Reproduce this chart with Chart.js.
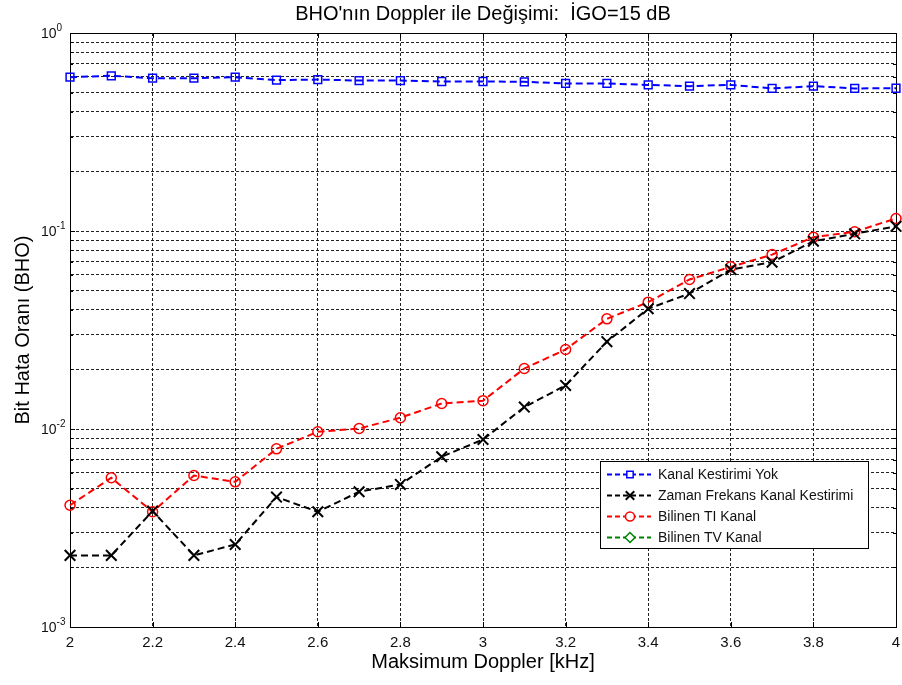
<!DOCTYPE html>
<html lang="tr">
<head>
<meta charset="UTF-8" />
<title>BHO'nın Doppler ile Değişimi</title>
<script src="https://cdn.jsdelivr.net/npm/chart.js@4"></script>
<style>
    html, body { margin: 0; padding: 0; background: #fff; }
    #wrap { width: 902px; height: 685px; }
</style>
</head>
<body>
<div id="wrap"><canvas id="bhoChart" width="902" height="685"></canvas></div>

<script>
    // --- veri ---
    const dopplerKHz = [2.0, 2.1, 2.2, 2.3, 2.4, 2.5, 2.6, 2.7, 2.8, 2.9, 3.0,
                        3.1, 3.2, 3.3, 3.4, 3.5, 3.6, 3.7, 3.8, 3.9, 4.0];

    const kanalKestirimiYok = [0.598, 0.608, 0.591, 0.591, 0.598, 0.578, 0.582, 0.575, 0.575, 0.569, 0.569,
                               0.567, 0.556, 0.556, 0.547, 0.539, 0.547, 0.525, 0.539, 0.525, 0.526];

    const zamanFrekansKestirim = [0.0023, 0.0023, 0.00385, 0.0023, 0.00261, 0.00453, 0.00382, 0.00482, 0.00525, 0.00724, 0.00885,
                                  0.0129, 0.0166, 0.0276, 0.0405, 0.0483, 0.0639, 0.0696, 0.0888, 0.0968, 0.1056];

    const bilinenTIKanal = [0.00412, 0.00567, 0.00382, 0.00582, 0.00541, 0.00794, 0.00968, 0.01006, 0.0114, 0.01345, 0.0139,
                            0.0202, 0.0252, 0.0360, 0.0437, 0.0569, 0.0659, 0.0760, 0.0931, 0.0991, 0.1157];

    // grafik aralığında görünmüyor (1e-3 altında)
    const bilinenTVKanal = [];

    const xTickValues = [2, 2.2, 2.4, 2.6, 2.8, 3, 3.2, 3.4, 3.6, 3.8, 4];
    const yDecades = [0.001, 0.01, 0.1, 1];
    const yMinorSteps = [2, 3, 4, 5, 6, 7, 8, 9];

    const FONT = '"Liberation Sans", Arial, sans-serif';

    function pts(values) {
        return values.map((v, i) => ({ x: dopplerKHz[i], y: v }));
    }

    function yGridTicks() {
        const out = [];
        yDecades.forEach((d, i) => {
            out.push({ value: d, major: true });
            if (i < yDecades.length - 1) yMinorSteps.forEach(m => out.push({ value: d * m, major: false }));
        });
        return out;
    }

    // MATLAB tarzı çerçeve, başlıklar, üs etiketleri ve lejant
    const matlabDecor = {
        id: 'matlabDecor',
        beforeDatasetsDraw(chart) {
            const { ctx, chartArea: a, scales } = chart;
            ctx.save();
            ctx.strokeStyle = '#000';
            ctx.lineWidth = 1;
            ctx.setLineDash([]);
            ctx.strokeRect(Math.round(a.left) + 0.5, Math.round(a.top) + 0.5,
                Math.round(a.right - a.left), Math.round(a.bottom - a.top));
            ctx.beginPath();
            xTickValues.forEach(v => {
                const x = Math.round(scales.x.getPixelForValue(v)) + 0.5;
                ctx.moveTo(x, a.bottom); ctx.lineTo(x, a.bottom - 5);
                ctx.moveTo(x, a.top); ctx.lineTo(x, a.top + 5);
            });
            yGridTicks().forEach(t => {
                const y = Math.round(scales.y.getPixelForValue(t.value)) + 0.5;
                const len = t.major ? 5 : 3;
                ctx.moveTo(a.left, y); ctx.lineTo(a.left + len, y);
                ctx.moveTo(a.right, y); ctx.lineTo(a.right - len, y);
            });
            ctx.stroke();
            ctx.restore();
        },
        afterDraw(chart) {
            const { ctx, chartArea: a, scales } = chart;
            const cx = (a.left + a.right) / 2;
            ctx.save();
            ctx.fillStyle = '#000';
            ctx.textBaseline = 'middle';

            // başlık
            ctx.font = '20px ' + FONT;
            ctx.textAlign = 'center';
            ctx.fillText("BHO'nın Doppler ile Değişimi:  İGO=15 dB", cx, 14);

            // x ekseni başlığı
            ctx.fillText('Maksimum Doppler [kHz]', cx, 662);

            // y ekseni başlığı
            ctx.save();
            ctx.translate(23, (a.top + a.bottom) / 2);
            ctx.rotate(-Math.PI / 2);
            ctx.fillText('Bit Hata Oranı (BHO)', 0, 0);
            ctx.restore();

            // y üs etiketleri 10^n
            ctx.textAlign = 'left';
            ctx.fillStyle = '#111';
            yDecades.forEach(d => {
                const y = scales.y.getPixelForValue(d);
                ctx.font = '14px ' + FONT;
                ctx.fillText('10', 41, y + 1);
                const w = ctx.measureText('10').width;
                ctx.font = '10px ' + FONT;
                ctx.fillText(String(Math.round(Math.log10(d))), 41 + w, y - 5);
            });

            // lejant
            const box = { x: 600, y: 461.5, w: 268, h: 87 };
            ctx.fillStyle = '#fff';
            ctx.fillRect(box.x, box.y, box.w, box.h);
            ctx.strokeStyle = '#000';
            ctx.lineWidth = 1;
            ctx.setLineDash([]);
            ctx.strokeRect(box.x + 0.5, box.y, box.w, box.h);
            chart.data.datasets.forEach((ds, i) => {
                const y = box.y + 13 + i * 21;
                ctx.strokeStyle = ds.borderColor;
                ctx.lineWidth = 2;
                ctx.setLineDash([5, 3]);
                ctx.beginPath();
                ctx.moveTo(607, y); ctx.lineTo(651, y);
                ctx.stroke();
                ctx.setLineDash([]);
                ctx.fillStyle = '#fff';
                ctx.lineWidth = ds.pointBorderWidth;
                Chart.helpers.drawPoint(ctx, {
                    pointStyle: ds.pointStyle, rotation: 0,
                    radius: ds.legendRadius, borderWidth: ds.pointBorderWidth
                }, 630, y);
                ctx.fillStyle = '#111';
                ctx.font = '14px ' + FONT;
                ctx.textAlign = 'left';
                ctx.fillText(ds.label, 658, y + 1);
            });
            ctx.restore();
        }
    };

    const gridOpts = { color: '#222', lineWidth: 1, drawTicks: false };
    const borderOpts = { display: true, color: '#000', width: 1, dash: [3, 2] };

    function series(label, values, color, style, radius, bw, legendRadius) {
        return {
            label: label,
            data: pts(values),
            borderColor: color,
            backgroundColor: 'transparent',
            borderWidth: 2,
            borderDash: [7, 4],
            pointStyle: style,
            pointRadius: radius,
            pointBorderWidth: bw,
            pointBorderColor: color,
            pointBackgroundColor: 'transparent',
            legendRadius: legendRadius,
            tension: 0,
            clip: false
        };
    }

    new Chart(document.getElementById('bhoChart'), {
        type: 'line',
        data: {
            datasets: [
                series('Kanal Kestirimi Yok', kanalKestirimiYok, '#0000ff', 'rect', 5.5, 1.5, 4.5),
                series('Zaman Frekans Kanal Kestirimi', zamanFrekansKestirim, '#000000', 'crossRot', 7.5, 2, 6),
                series('Bilinen TI Kanal', bilinenTIKanal, '#ff0000', 'circle', 5, 1.5, 4.5),
                series('Bilinen TV Kanal', bilinenTVKanal, '#008000', 'rectRot', 5, 1.5, 5)
            ]
        },
        options: {
            responsive: false,
            devicePixelRatio: 1,
            animation: false,
            events: [],
            layout: { autoPadding: false, padding: { top: 33, right: 6, left: 0, bottom: 0 } },
            plugins: {
                legend: { display: false },
                title: { display: false },
                tooltip: { enabled: false }
            },
            scales: {
                x: {
                    type: 'linear',
                    min: 2,
                    max: 4,
                    afterBuildTicks: s => { s.ticks = xTickValues.map(v => ({ value: v })); },
                    ticks: {
                        autoSkip: false,
                        maxRotation: 0,
                        padding: 7,
                        color: '#111',
                        font: { family: FONT, size: 15 },
                        callback: v => String(Number(Number(v).toFixed(1)))
                    },
                    grid: gridOpts,
                    border: borderOpts,
                    afterFit: s => { s.height = 58; s.paddingLeft = 0; s.paddingRight = 0; }
                },
                y: {
                    type: 'logarithmic',
                    min: 0.001,
                    max: 1,
                    afterBuildTicks: s => { s.ticks = yGridTicks(); },
                    ticks: { display: false, autoSkip: false },
                    grid: gridOpts,
                    border: borderOpts,
                    afterFit: s => { s.width = 70; s.paddingTop = 0; s.paddingBottom = 0; }
                }
            }
        },
        plugins: [matlabDecor]
    });
</script>
</body>
</html>
